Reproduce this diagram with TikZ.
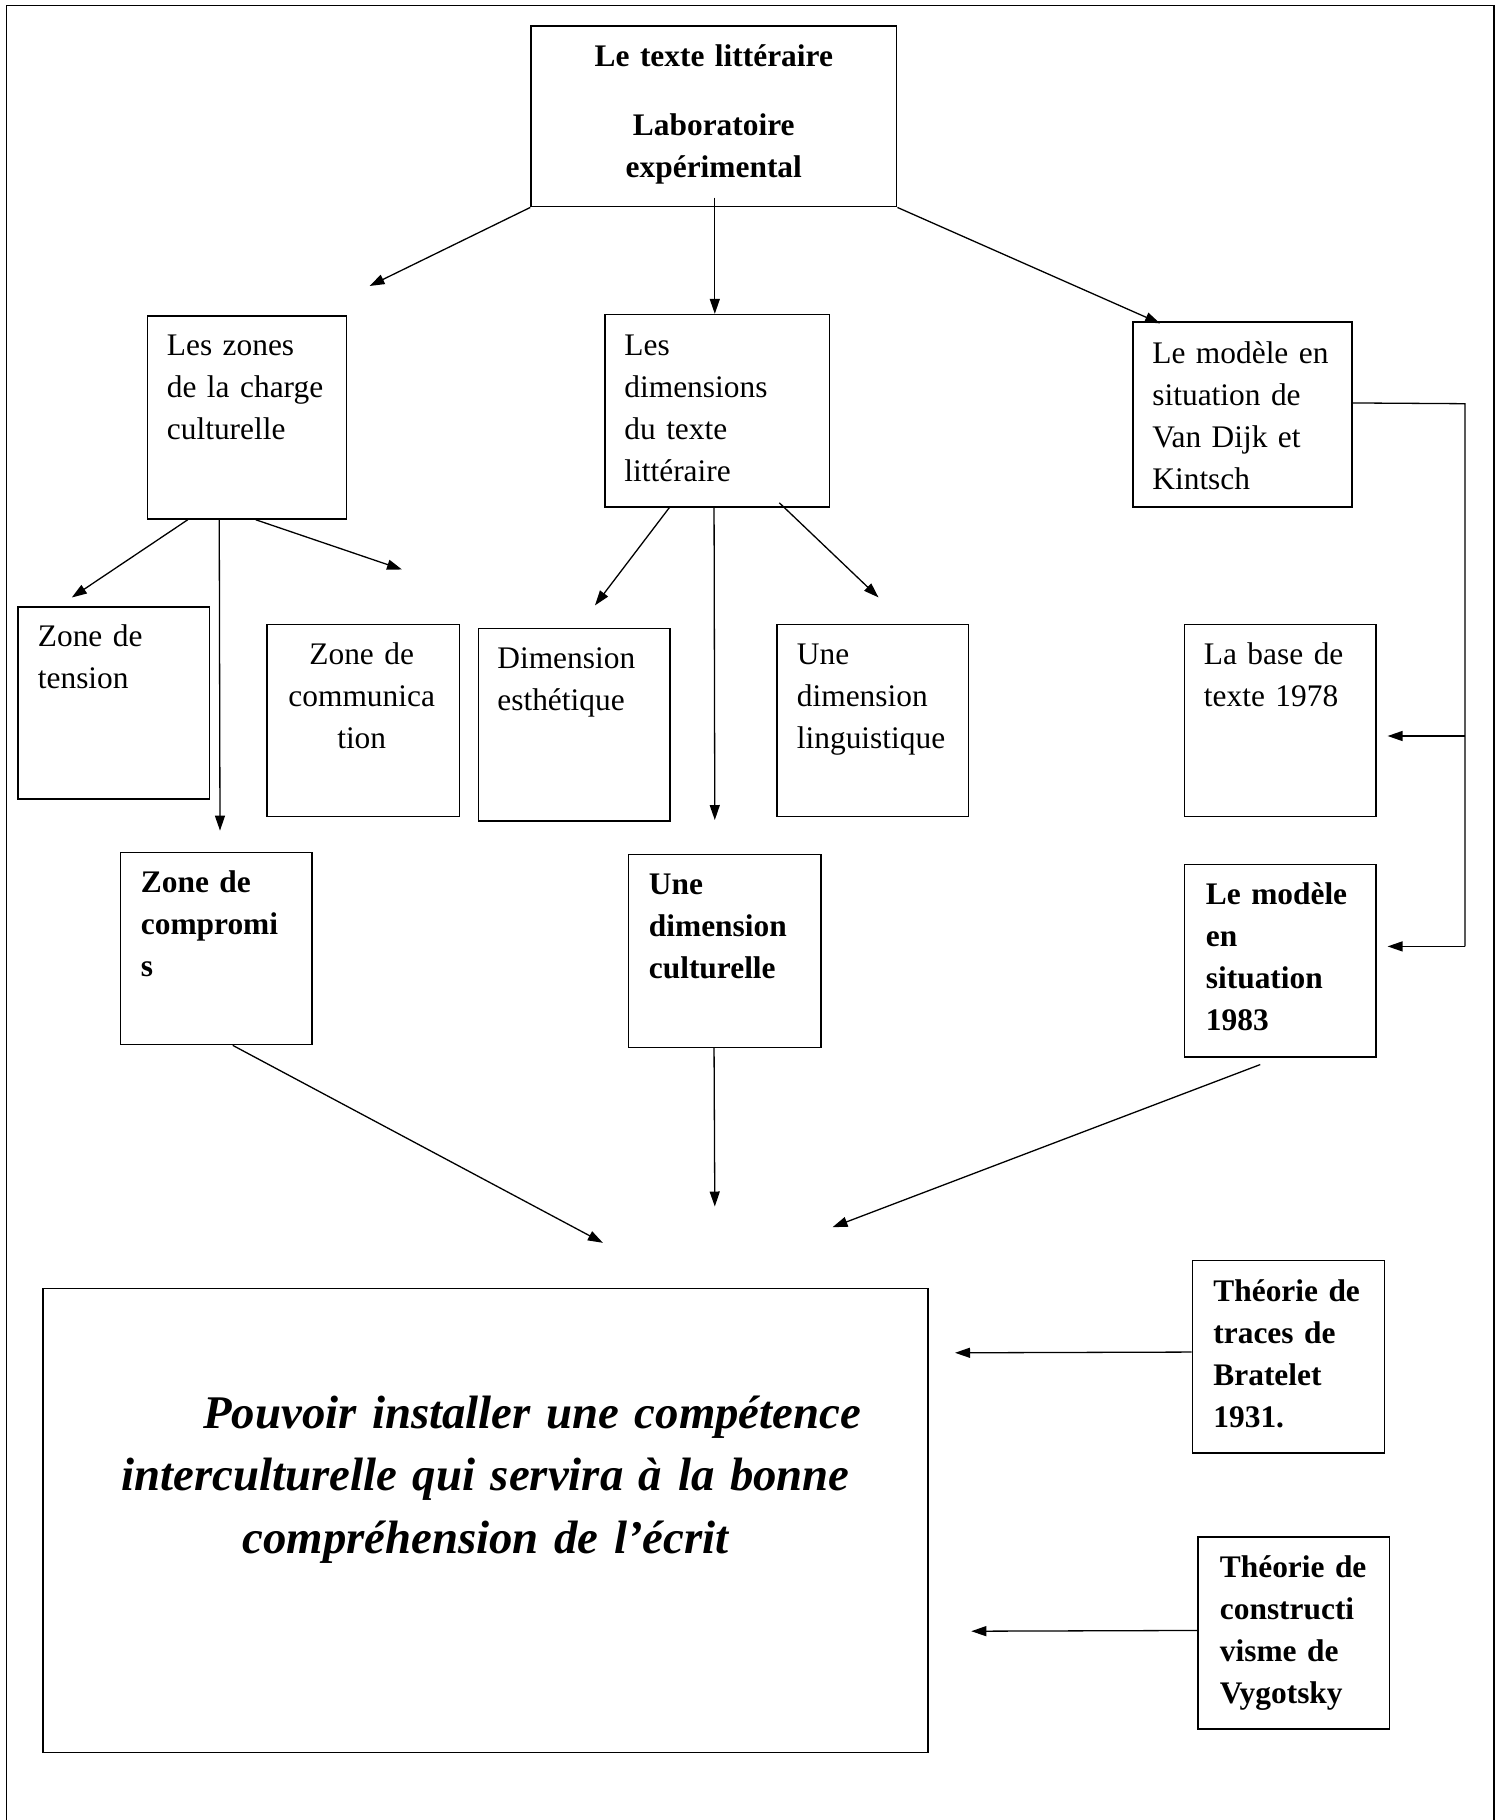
\documentclass[tikz,border=0pt]{standalone}
\usepackage{fontspec}
\setmainfont{Liberation Serif}
\usetikzlibrary{arrows.meta,fit,calc}
\begin{document}
\begin{tikzpicture}[x=0.5pt,y=-0.5pt,
  box/.style={draw, line width=0.75pt, inner sep=0pt},
  txt/.style={inner sep=0pt, font=\fontsize{15.7}{21}\selectfont, align=left, text width=110pt, anchor=base west},
  btxt/.style={txt, font=\fontsize{15.7}{21}\selectfont\bfseries},
  ctxt/.style={inner sep=0pt, font=\fontsize{15.7}{21}\selectfont, align=center, text width=110pt, anchor=base},
  itxt/.style={inner sep=0pt, font=\fontsize{23.4}{31.25}\selectfont\bfseries\itshape, align=center, text width=440pt, anchor=base},
  conn/.style={line width=0.65pt},
  arr/.style={conn, -{Triangle[length=7.5pt,width=5pt]}}]
\useasboundingbox (0,0) rectangle (1501,1820);
% outer frame (open at the bottom)
\draw[line width=0.75pt] (6.5,1820) -- (6.5,5.7) -- (1494,5.7) -- (1494,1820);

% boxes
\node[box, fit={(531,26) (896.7,206.7)}] (top) {};
\node[box, fit={(147.4,316) (346.4,519)}] (zones) {};
\node[box, fit={(604.8,314.6) (829.7,507)}] (dims) {};
\node[box, fit={(1133,322) (1352,507)}] (modele) {};
\node[box, fit={(18.2,606.8) (209.6,799)}] (tension) {};
\node[box, fit={(267,624.4) (459.3,816.6)}] (comm) {};
\node[box, fit={(478.5,628.6) (670,820.8)}] (esth) {};
\node[box, fit={(777,624.4) (968.4,816.6)}] (ling) {};
\node[box, fit={(1184.7,624.4) (1376,816.6)}] (base) {};
\node[box, fit={(120.6,852.4) (312,1044.6)}] (compromis) {};
\node[box, fit={(628.7,854.5) (821,1047.4)}] (cult) {};
\node[box, fit={(1184.7,864.6) (1376,1056.8)}] (mod83) {};
\node[box, fit={(43,1288.6) (928.2,1752.5)}] (big) {};
\node[box, fit={(1192.3,1260.3) (1384.7,1452.8)}] (traces) {};
\node[box, fit={(1198,1536.8) (1389.5,1728.9)}] (vyg) {};

% texts
\node[ctxt, font=\fontsize{15.7}{21}\selectfont\bfseries, text width=170pt] (topT) at (713.8,66) {Le texte littéraire\\[13.5pt]Laboratoire\\expérimental};
\node[txt] (zonesT) at (166.5,355) {Les zones\\de la charge\\culturelle};
\node[txt] (dimsT) at (624,355) {Les\\dimensions\\du texte\\littéraire};
\node[txt] (modeleT) at (1152,363) {Le modèle en\\situation de\\Van Dijk et\\Kintsch};
\node[txt] (tensionT) at (37.5,646) {Zone de\\tension};
\node[ctxt] (commT) at (361.7,664) {Zone de\\communica\\tion};
\node[txt] (esthT) at (497,668) {Dimension\\esthétique};
\node[txt] (lingT) at (796.5,664) {Une\\dimension\\linguistique};
\node[txt] (baseT) at (1203.5,664) {La base de\\texte 1978};
\node[btxt] (compromisT) at (140.5,892) {Zone de\\compromi\\s};
\node[btxt] (cultT) at (648.5,894) {Une\\dimension\\culturelle};
\node[btxt] (mod83T) at (1205.5,904.5) {Le modèle\\en\\situation\\1983};
\node[btxt] (tracesT) at (1213,1301) {Théorie de\\traces de\\Bratelet\\1931.};
\node[btxt] (vygT) at (1219.5,1577) {Théorie de\\constructi\\visme de\\Vygotsky};
\node[itxt] (bigT) at (485.6,1428) {\hspace*{46.5pt}Pouvoir installer une compétence\\interculturelle qui servira à la bonne\\compréhension de l’écrit};

% free ends of connectors
\coordinate (tA) at (369.5,286);
\coordinate (tB) at (1160,323.4);
\coordinate (mS) at (714.8,197.5);
\coordinate (t1) at (71.8,597.5);
\coordinate (t2) at (220,830.6);
\coordinate (t3) at (402,569.5);
\coordinate (t4) at (595,605.4);
\coordinate (t5) at (714.8,820);
\coordinate (t6) at (878.5,597.4);
\coordinate (rc) at (1465,403.7);
\coordinate (rm) at (1465,736);
\coordinate (rb) at (1465,946.4);
\coordinate (t7) at (1387.6,736);
\coordinate (t8) at (1387.6,946.4);
\coordinate (t9) at (602.9,1242.8);
\coordinate (t10) at (714.8,1206.5);
\coordinate (t11) at (832.5,1227.2);
\coordinate (t12) at (955,1352.8);
\coordinate (t13) at (971.3,1631.2);

% connectors
\draw[arr] (top.south west) -- (tA);
\draw[arr] (mS) -- (mS |- dims.north);
\draw[arr] (top.south east) -- (tB);

\draw[arr] ($(zones.south west)+(41.1,0)$) -- (t1);
\draw[arr] ($(zones.south west)+(72.6,0)$) -- (t2);
\draw[arr] ($(zones.south west)+(109.1,0)$) -- (t3);

\draw[arr] ($(dims.south west)+(65.2,0)$) -- (t4);
\draw[arr] ($(dims.south west)+(110,0)$) -- (t5);
\draw[arr] ($(dims.south west)+(175.2,-5)$) -- (t6);

\draw[conn] ($(modele.north east)+(0,81.7)$) -- (rc) -- (rb);
\draw[arr] (rb) -- (t8);
\draw[arr] (rm) -- (t7);

\draw[arr] ($(compromis.south west)+(112.9,0)$) -- (t9);
\draw[arr] ($(cult.south west)+(86.1,0)$) -- (t10);
\draw[arr] ($(mod83.south west)+(76.3,7)$) -- (t11);

\draw[arr] ($(traces.north west)+(0,92.5)$) -- (t12);
\draw[arr] ($(vyg.north west)+(0,94.4)$) -- (t13);
\end{tikzpicture}
\end{document}
